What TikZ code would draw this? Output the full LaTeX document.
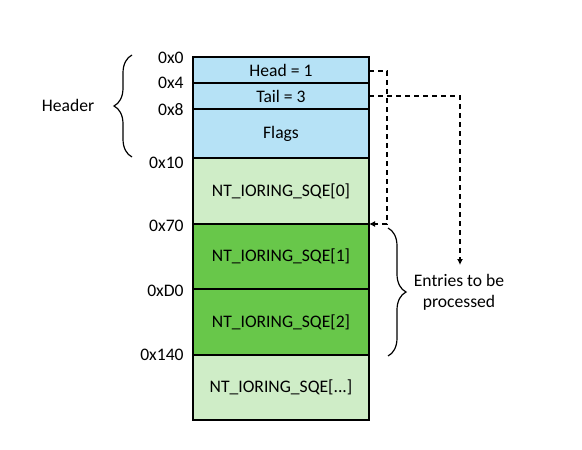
\documentclass[tikz,border=0pt]{standalone}
\usepackage{fontspec}
\setmainfont{Carlito}
\usepackage{tikz}
\usetikzlibrary{arrows.meta}
\usetikzlibrary{decorations.pathreplacing}
\usetikzlibrary{calc}
\definecolor{hdrblue}{RGB}{182,226,246}
\definecolor{sqelight}{RGB}{207,237,199}
\definecolor{sqedark}{RGB}{104,199,74}
\tikzset{l/.style={font=\fontsize{8.8}{10.5}\selectfont}}
\tikzset{off/.style={l, anchor=east, inner sep=0pt}}
\tikzset{cell/.style={draw, line width=0.6pt}}
\tikzset{
ptr/.style={dashed, dash pattern=on 2.5pt off 2pt, line width=0.6pt, -{Latex[length=3pt,width=3pt]}},
brc/.style={decorate, decoration={brace, amplitude=9pt}, line width=0.6pt}
}
\begin{document}
\begin{tikzpicture}[x=0.5pt,y=-0.5pt]
    \useasboundingbox (0,0) rectangle (582,449);
    % rows of the ring
    \coordinate (r0) at (193,57);
    \coordinate (r1) at (193,83);
    \coordinate (r2) at (193,109);
    \coordinate (r3) at (193,158);
    \coordinate (r4) at (193,224);
    \coordinate (r5) at (193,289);
    \coordinate (r6) at (193,355);
    \coordinate (r7) at (193,420);
    \draw[cell, fill=hdrblue] (r0) rectangle ($(r1)+(176,0)$) node [l, midway] (head) {Head = 1};
    \draw[cell, fill=hdrblue] (r1) rectangle ($(r2)+(176,0)$) node [l, midway] (tail) {Tail = 3};
    \draw[cell, fill=hdrblue] (r2) rectangle ($(r3)+(176,0)$) node [l, midway] (flags) {Flags};
    \draw[cell, fill=sqelight] (r3) rectangle ($(r4)+(176,0)$) node [l, midway] (sqe0) {NT\_IORING\_SQE[0]};
    \draw[cell, fill=sqedark] (r4) rectangle ($(r5)+(176,0)$) node [l, midway] (sqe1) {NT\_IORING\_SQE[1]};
    \draw[cell, fill=sqedark] (r5) rectangle ($(r6)+(176,0)$) node [l, midway] (sqe2) {NT\_IORING\_SQE[2]};
    \draw[cell, fill=sqelight] (r6) rectangle ($(r7)+(176,0)$) node [l, midway] (sqen) {NT\_IORING\_SQE[...]};
    % offsets
    \node[off] (o0) at (184,58) {0x0};
    \node[off] (o4) at (184,83) {0x4};
    \node[off] (o8) at (184,110) {0x8};
    \node[off] (o10) at (184,163) {0x10};
    \node[off] (o70) at (184,226) {0x70};
    \node[off] (od0) at (184,291) {0xD0};
    \node[off] (o140) at (184,355) {0x140};
    % header brace
    \coordinate (hb1) at (132,157);
    \coordinate (hb2) at (132,55);
    \draw[brc] (hb1) -- (hb2);
    \node[l] (hdr) at (68,105) {Header};
    % pointers
    \coordinate (hs) at (369,71);
    \coordinate (he) at (369,224);
    \coordinate (ts) at (369,96);
    \coordinate (te) at (460,265);
    \draw[ptr] (hs) -- (387,71) -- (387,224) -- (he);
    \draw[ptr] (ts) -- (460,96) -- (te);
    % entries brace
    \coordinate (eb1) at (388,228);
    \coordinate (eb2) at (388,356);
    \draw[brc] (eb1) -- (eb2);
    \node[l, align=center] (todo) at (459,292) {Entries to be\\processed};
\end{tikzpicture}
\end{document}
